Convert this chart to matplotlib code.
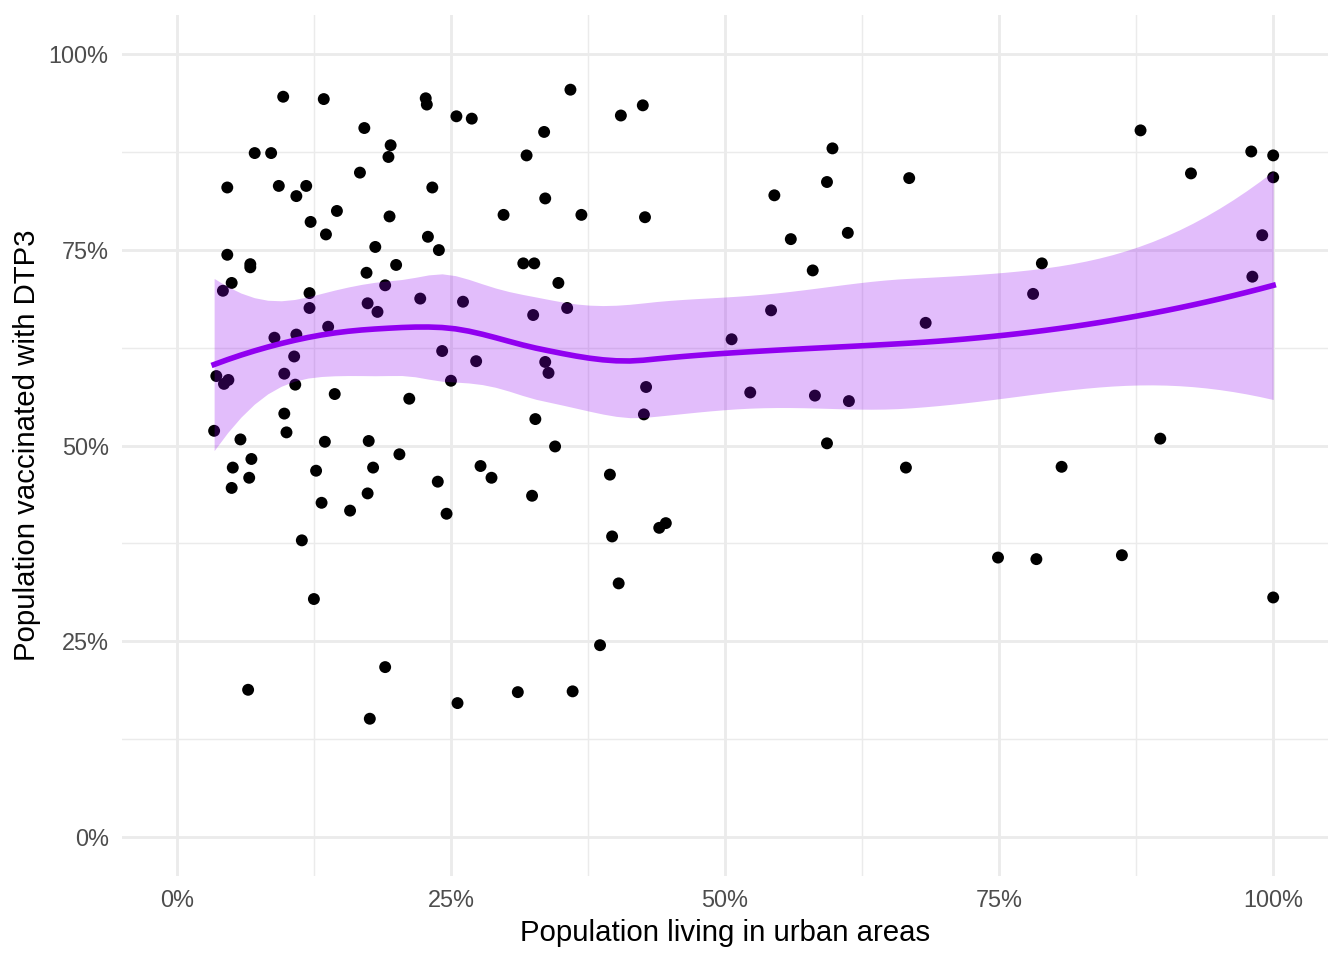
import matplotlib
matplotlib.use("Agg")
import matplotlib.pyplot as plt
from matplotlib.ticker import PercentFormatter, FixedLocator
import numpy as np

# share of population living in urban areas (%)
urban = np.array([
    9.7, 13.4, 22.7, 22.8, 25.5, 26.9, 35.9, 40.5, 42.5, 17.1,
    33.5, 87.9, 19.5, 19.3, 31.9, 7.1, 8.6, 59.8, 98.0, 100.0,
    16.7, 92.5, 66.8, 59.3, 100.0, 4.6, 9.3, 11.8, 23.3, 10.9,
    33.6, 54.5, 14.6, 29.8, 19.4, 36.9, 42.7, 12.2, 13.6, 61.2,
    22.9, 56.0, 99.0, 4.6, 18.1, 23.9, 6.7, 6.7, 20.0, 31.6,
    32.6, 78.9, 17.3, 58.0, 98.1, 34.8, 5.0, 19.0, 12.1, 4.2,
    78.1, 22.2, 26.1, 17.4, 35.6, 12.1, 18.3, 54.2, 32.5, 68.3,
    13.8, 10.9, 8.9, 50.6, 24.2, 10.7, 27.3, 33.6, 33.9, 9.8,
    3.6, 4.7, 4.3, 10.8, 25.0, 42.8, 52.3, 14.4, 58.2, 21.2,
    61.3, 9.8, 32.7, 42.6, 3.4, 10.0, 5.8, 13.5, 17.5, 59.3,
    89.7, 34.5, 20.3, 6.8, 5.1, 12.7, 17.9, 27.7, 66.5, 80.7,
    39.5, 6.6, 28.7, 5.0, 23.8, 17.4, 32.4, 13.2, 15.8, 24.6,
    44.6, 44.0, 39.7, 11.4, 74.9, 78.4, 86.2, 40.3, 12.5, 100.0,
    38.6, 19.0, 6.5, 31.1, 36.1, 25.6, 17.6,
])

# share of population vaccinated with DTP3 (%)
dtp3 = np.array([
    94.6, 94.3, 94.4, 93.6, 92.1, 91.8, 95.5, 92.2, 93.5, 90.6,
    90.1, 90.3, 88.4, 86.9, 87.1, 87.4, 87.4, 88.0, 87.6, 87.1,
    84.9, 84.8, 84.2, 83.7, 84.3, 83.0, 83.2, 83.2, 83.0, 81.9,
    81.6, 82.0, 80.0, 79.5, 79.3, 79.5, 79.2, 78.6, 77.0, 77.2,
    76.7, 76.4, 76.9, 74.4, 75.4, 75.0, 73.2, 72.8, 73.1, 73.3,
    73.3, 73.3, 72.1, 72.4, 71.6, 70.8, 70.8, 70.5, 69.5, 69.8,
    69.4, 68.8, 68.4, 68.2, 67.6, 67.6, 67.1, 67.3, 66.7, 65.7,
    65.2, 64.2, 63.8, 63.6, 62.1, 61.4, 60.8, 60.7, 59.3, 59.2,
    58.9, 58.4, 57.9, 57.8, 58.3, 57.5, 56.8, 56.6, 56.4, 56.0,
    55.7, 54.1, 53.4, 54.0, 51.9, 51.7, 50.8, 50.5, 50.6, 50.3,
    50.9, 49.9, 48.9, 48.3, 47.2, 46.8, 47.2, 47.4, 47.2, 47.3,
    46.3, 45.9, 45.9, 44.6, 45.4, 43.9, 43.6, 42.7, 41.7, 41.3,
    40.1, 39.5, 38.4, 37.9, 35.7, 35.5, 36.0, 32.4, 30.4, 30.6,
    24.5, 21.7, 18.8, 18.5, 18.6, 17.1, 15.1,
])

pct_ticks = [0, 25, 50, 75, 100]
minor_ticks = [12.5, 37.5, 62.5, 87.5]

LINE = "#9100F0"
GRID = "#EBEBEB"
TXT = "#4D4D4D"
SPAN = 0.75


def local_ops(x, x_eval, span=SPAN):
    # local quadratic fit, tricube weights -> operator rows for value and slope
    n = len(x)
    q = int(np.floor(n * span))
    val, slope = [], []
    for xv in x_eval:
        d = np.abs(x - xv)
        h = np.sort(d)[q - 1]
        w = np.clip(1 - (d / h) ** 3, 0, None) ** 3
        X = np.column_stack([np.ones(n), x - xv, (x - xv) ** 2])
        XtW = X.T * w
        B = np.linalg.solve(XtW @ X, XtW)
        val.append(B[0])
        slope.append(B[1])
    return np.array(val), np.array(slope)


def kd_vertices(x, span=SPAN, cell=0.2):
    # vertices of the 1-d kd tree used by loess' interpolated surface
    xs = np.sort(x)
    fc = int(np.floor(len(x) * span * cell))
    lo, hi = xs[0], xs[-1]
    mu = 0.005 * (hi - lo)
    verts = [lo - mu, hi + mu]

    def split(l, u):
        if u - l + 1 <= fc:
            return
        m = (l + 1 + u + 1) // 2 - 1
        verts.append((xs[m] + xs[m + 1]) / 2)
        split(l, m)
        split(m + 1, u)

    split(0, len(xs) - 1)
    return np.array(sorted(verts))


def loess_operator(x, x_eval):
    vx = kd_vertices(x)
    V, S = local_ops(x, vx)
    rows = []
    for xv in x_eval:
        i = np.clip(np.searchsorted(vx, xv) - 1, 0, len(vx) - 2)
        a, b = vx[i], vx[i + 1]
        hh = b - a
        t = (xv - a) / hh
        h00 = 2 * t ** 3 - 3 * t ** 2 + 1
        h10 = t ** 3 - 2 * t ** 2 + t
        h01 = -2 * t ** 3 + 3 * t ** 2
        h11 = t ** 3 - t ** 2
        rows.append(h00 * V[i] + h10 * hh * S[i] + h01 * V[i + 1] + h11 * hh * S[i + 1])
    return np.array(rows)


# smoother + 95% band
L = loess_operator(urban, urban)
res = dtp3 - L @ dtp3
IL = np.eye(len(urban)) - L
M = IL.T @ IL
one_delta = np.trace(M)
two_delta = np.trace(M @ M)
sigma = np.sqrt(np.sum(res ** 2) / one_delta)
dof = one_delta ** 2 / two_delta
z = 1.959964
tq = z + (z ** 3 + z) / (4 * dof) + (5 * z ** 5 + 16 * z ** 3 + 3 * z) / (96 * dof ** 2)

grid_x = np.linspace(urban.min(), urban.max(), 80)
L0 = loess_operator(urban, grid_x)
fit = L0 @ dtp3
se = sigma * np.sqrt(np.sum(L0 ** 2, axis=1))

plt.rcParams['font.family'] = ['Liberation Sans', 'DejaVu Sans']

fig = plt.figure(figsize=(7, 5), dpi=192)
ax = fig.add_axes([0.0908, 0.0875, 0.8973, 0.8965])

ax.scatter(urban, dtp3, s=20, color="black", edgecolors="none", zorder=2)
ax.fill_between(grid_x, fit - tq * se, fit + tq * se, color=LINE, alpha=0.26,
                linewidth=0, zorder=3)
ax.plot(grid_x, fit, color=LINE, linewidth=2.1, zorder=4)

ax.set_xlim(-5, 105)
ax.set_ylim(-5, 105)
for axis in (ax.xaxis, ax.yaxis):
    axis.set_major_locator(FixedLocator(pct_ticks))
    axis.set_minor_locator(FixedLocator(minor_ticks))
    axis.set_major_formatter(PercentFormatter(100, decimals=0))
ax.grid(which="major", color=GRID, linewidth=1.07, zorder=0)
ax.grid(which="minor", color=GRID, linewidth=0.53, zorder=0)
ax.set_axisbelow(True)
for s in ax.spines.values():
    s.set_visible(False)
ax.tick_params(which="both", length=0, labelsize=8.8, labelcolor=TXT)
ax.tick_params(axis="x", pad=5)
ax.tick_params(axis="y", pad=5)

ax.set_xlabel("Population living in urban areas", fontsize=11, labelpad=2.5)
ax.set_ylabel("Population vaccinated with DTP3", fontsize=11, labelpad=2.8)

fig.savefig("out.png", dpi=192, facecolor="white")
